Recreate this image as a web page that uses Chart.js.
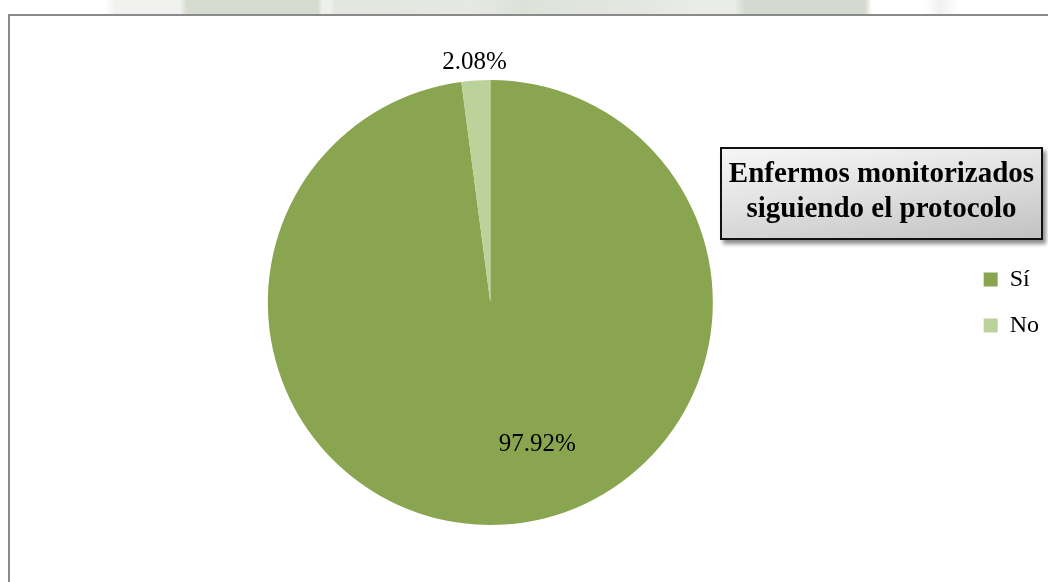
<!DOCTYPE html>
<html>
<head>
<meta charset="utf-8">
<script src="https://cdn.jsdelivr.net/npm/chart.js@4.4.0/dist/chart.umd.min.js"></script>
<style>
  html, body { margin: 0; padding: 0; background: #fff; overflow: hidden; width: 1048px; height: 582px; }
  #band {
    position: absolute; left: 0; top: 0; width: 1048px; height: 14px;
    background: linear-gradient(to right,
      #fff 0px, #fff 105px, #f1f2f0 115px, #f1f2f0 180px,
      #d5dbcf 187px, #d5dbcf 318px, #eef0ec 322px, #eef0ec 330px,
      #e2e6df 336px, #e6e9e3 470px, #dde2d9 520px, #e4e7e1 640px,
      #e9ece7 700px, #e9ece7 735px, #d4dacf 745px, #d4dacf 865px,
      #fff 872px, #fff 925px, #f0f1ef 940px, #fff 960px, #fff 1048px);
  }
  #frame {
    position: absolute; left: 8px; top: 14px; width: 1060px; height: 580px;
    border-top: 2px solid #8a8a8a; border-left: 2px solid #8a8a8a;
  }
  #chart1 { position: absolute; left: 10px; top: 16px; }
  #titulo {
    position: absolute; left: 720px; top: 147px; width: 319px;
    border: 2px solid #111;
    background: linear-gradient(172deg, #f6f6f6 0%, #e2e2e2 45%, #c2c2c2 100%);
    box-shadow: 3px 4px 4px rgba(0,0,0,0.45);
    font: bold 29px "Liberation Serif", "Times New Roman", serif;
    line-height: 35px; text-align: center; color: #000;
    padding-top: 6px; height: 83px; white-space: nowrap;
  }
</style>
</head>
<body>
<div id="band"></div>
<div id="frame"></div>
<canvas id="chart1" width="1039" height="566"></canvas>
<div id="titulo">Enfermos monitorizados<br>siguiendo el protocolo</div>
<script>
const etiquetas = ["Sí", "No"];
const porcentajes = [97.92, 2.08];
const colores = ["#8aa54f", "#bcd29b"];

// where each % label sits: fraction of the radius and a turn (degrees) off the slice bisector
const radioEtiqueta = [0.67, 1.082];
const giroEtiqueta = [-14.65, 0];

const etiquetasPct = {
    id: "etiquetasPct",
    afterDatasetsDraw(chart) {
        const ctx = chart.ctx;
        const arcs = chart.getDatasetMeta(0).data;
        ctx.save();
        ctx.font = '25px "Liberation Serif", "Times New Roman", serif';
        ctx.fillStyle = "#000";
        ctx.textAlign = "center";
        ctx.textBaseline = "middle";
        arcs.forEach(function (arc, i) {
            const p = arc.getProps(["x", "y", "startAngle", "endAngle", "outerRadius"], true);
            const ang = (p.startAngle + p.endAngle) / 2 + giroEtiqueta[i] * Math.PI / 180;
            const r = p.outerRadius * radioEtiqueta[i];
            ctx.fillText(porcentajes[i].toFixed(2) + "%", p.x + Math.cos(ang) * r, p.y + Math.sin(ang) * r);
        });
        ctx.restore();
    }
};

const ctx_chart1 = document.getElementById("chart1").getContext("2d");
const chart1 = new Chart(ctx_chart1, {
    type: "pie",
    data: {
        labels: etiquetas,
        datasets: [{
            backgroundColor: colores,
            data: porcentajes,
            borderWidth: 0
        }]
    },
    options: {
        responsive: false,
        animation: false,
        layout: { padding: { left: 9, top: 64, bottom: 57, right: 0 } },
        plugins: {
            tooltip: { enabled: false },
            legend: {
                position: "right",
                labels: {
                    boxWidth: 14,
                    boxHeight: 14,
                    padding: 22,
                    color: "#000",
                    font: { family: '"Liberation Serif", "Times New Roman", serif', size: 24 }
                }
            }
        }
    },
    plugins: [etiquetasPct]
});
</script>
</body>
</html>
